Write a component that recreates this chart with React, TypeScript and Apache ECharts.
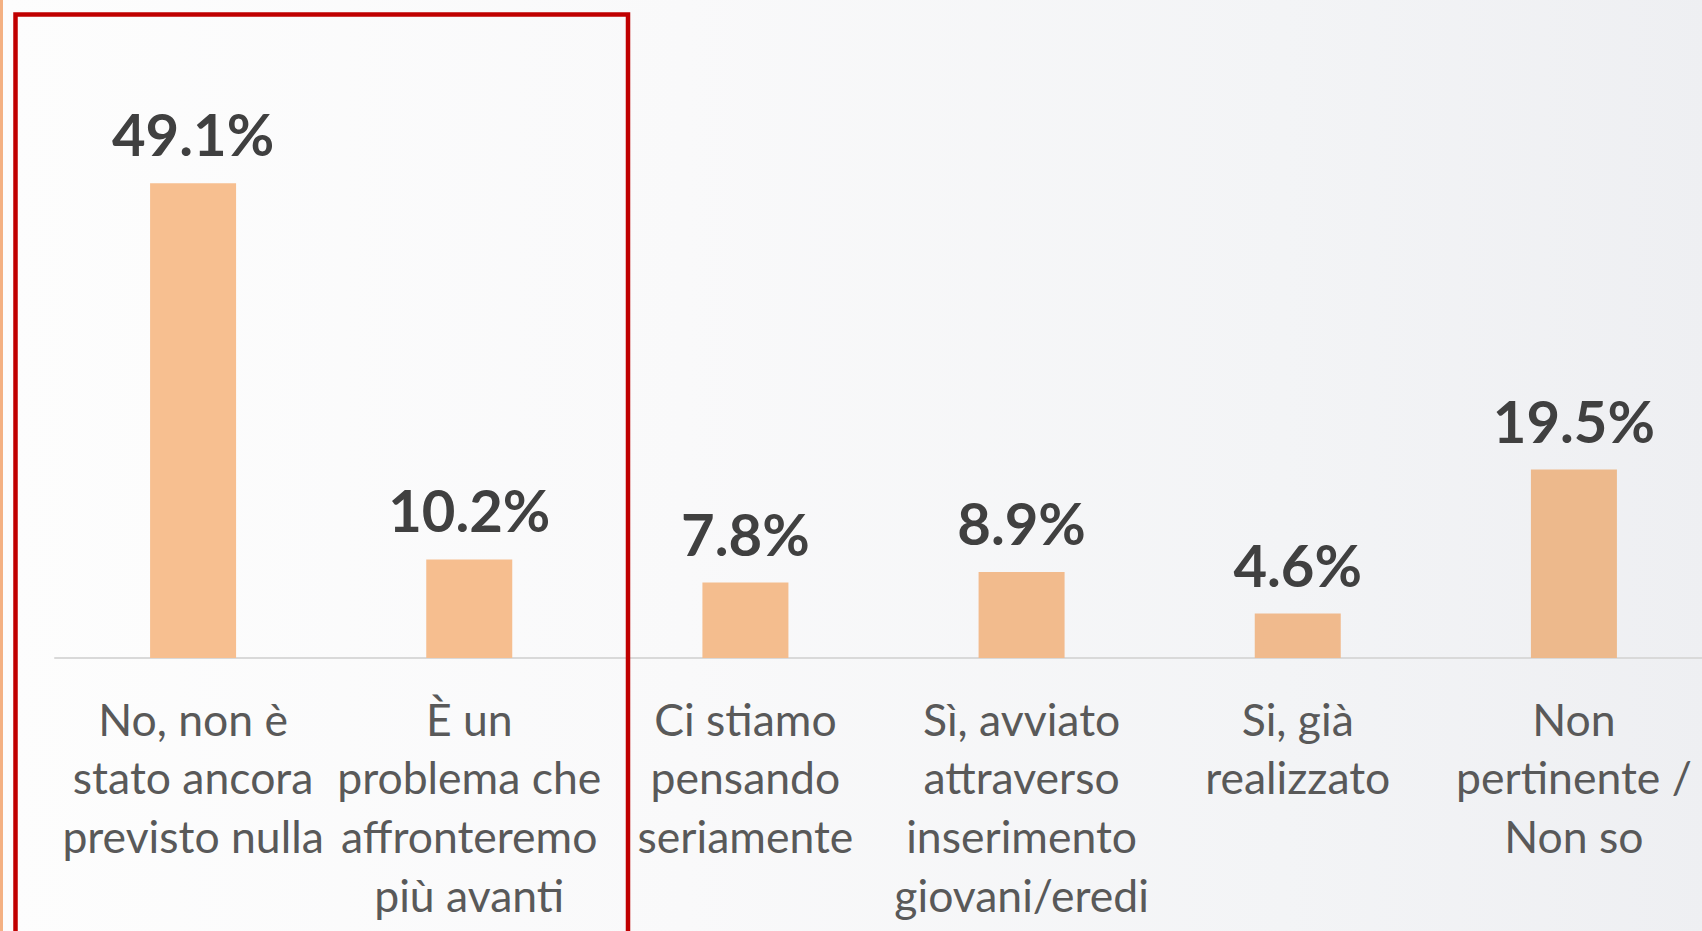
import React, { useEffect, useRef } from "react";
import * as echarts from "echarts";

const categories = [
  "No, non è\nstato ancora\nprevisto nulla",
  "È un\nproblema che\naffronteremo\npiù avanti",
  "Ci stiamo\npensando\nseriamente",
  "Sì, avviato\nattraverso\ninserimento\ngiovani/eredi",
  "Si, già\nrealizzato",
  "Non\npertinente /\nNon so",
];
const values = [49.1, 10.2, 7.8, 8.9, 4.6, 19.5];
const barColors = ["#F7BF90", "#F6BE8F", "#F4BD8E", "#F2BB8D", "#F0BA8D", "#EDB98C"];

const W = 1712;
const H = 931;

export default function App() {
  const ref = useRef<HTMLDivElement>(null);
  useEffect(() => {
    document.body.style.margin = "0";
    document.body.style.overflow = "hidden";
    const chart = echarts.init(ref.current!, null, { renderer: "svg" });
    chart.setOption({
      animation: false,
      graphic: [
        {
          type: "rect",
          z: -10,
          silent: true,
          shape: { x: 0, y: 0, width: W, height: H },
          style: {
            fill: new echarts.graphic.LinearGradient(0, 0, 1, 0, [
              { offset: 0, color: "#fdfdfd" },
              { offset: 0.4, color: "#f9f9fa" },
              { offset: 0.75, color: "#f3f4f6" },
              { offset: 1, color: "#eeeff2" },
            ]),
          },
        },
        {
          type: "rect",
          z: 50,
          silent: true,
          shape: { x: 0, y: 0, width: 3, height: H },
          style: { fill: "#F4B183" },
        },
        {
          type: "rect",
          z: 100,
          silent: true,
          shape: { x: 15.5, y: 14.5, width: 612.5, height: 1000 },
          style: { fill: "none", stroke: "#C00000", lineWidth: 4.5 },
        },
      ],
      grid: { left: 55, top: 78, right: 0, height: 580, containLabel: false },
      xAxis: {
        type: "category",
        data: categories,
        axisLine: { show: true, lineStyle: { color: "#D9D9D9", width: 2 } },
        axisTick: { show: false },
        axisLabel: {
          interval: 0,
          margin: 31,
          color: "#595959",
          fontFamily: "Lato",
          fontSize: 44.5,
          lineHeight: 58.6,
          align: "center",
        },
      },
      yAxis: {
        type: "value",
        min: 0,
        max: 60,
        show: false,
        splitLine: { show: false },
      },
      series: [
        {
          type: "bar",
          data: values.map((v, i) => ({ value: v, itemStyle: { color: barColors[i] } })),
          barWidth: 86,
          label: {
            show: true,
            position: "top",
            distance: 21,
            formatter: (p: any) => p.value.toFixed(1) + "%",
            color: "#404040",
            fontFamily: "Lato",
            fontWeight: "bold",
            fontSize: 58,
            lineHeight: 57,
          },
        },
      ],
    });
    return () => chart.dispose();
  }, []);
  return (
    <div style={{ width: 1702, height: H, overflow: "hidden" }}>
      <div ref={ref} style={{ width: W, height: H }} />
    </div>
  );
}
